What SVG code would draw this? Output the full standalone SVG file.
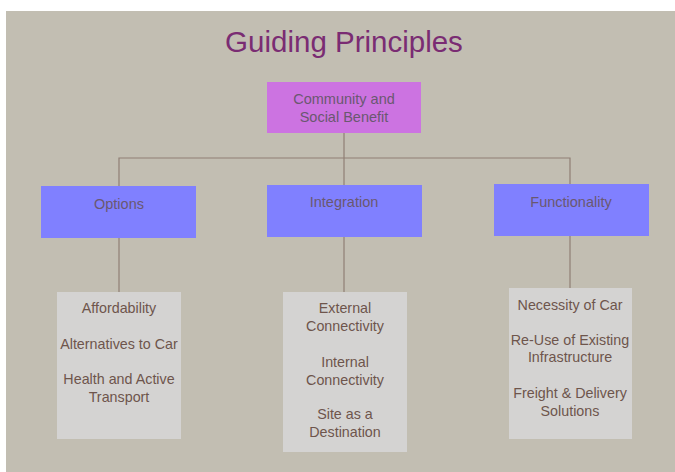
<svg xmlns="http://www.w3.org/2000/svg" width="675" height="472" viewBox="0 0 675 472">
  <style>
    text { font-family: "Liberation Sans", Arial, sans-serif; text-anchor: middle; }
    .title { font-size: 29.5px; fill: #7a2c73; }
    .top { fill: #cc73e1; }
    .mid { fill: #8080ff; }
    .list { fill: #d4d3d2; }
    .hd { font-size: 14.5px; fill: #6a5870; }
    .item { font-size: 14.3px; fill: #6e554c; }
    .conn { stroke: #8f7f75; stroke-width: 1.2; fill: none; }
  </style>

  <rect width="675" height="472" fill="#ffffff"/>
  <rect x="6" y="11" width="669" height="461" fill="#c2beb2"/>

  <text class="title" x="344" y="52">Guiding Principles</text>

  <!-- connectors -->
  <g id="connectors">
    <path class="conn" d="M344,133 V185"/>
    <path class="conn" d="M119,186 V158 H570 V184"/>
    <path class="conn" d="M119,238 V292"/>
    <path class="conn" d="M344,237 V292"/>
    <path class="conn" d="M570,236 V288"/>
  </g>

  <g id="community">
    <rect class="top" x="267" y="82" width="154" height="51"/>
    <text class="hd" x="344" y="104">Community and</text>
    <text class="hd" x="344" y="122">Social Benefit</text>
  </g>

  <g id="options">
    <rect class="mid" x="41" y="186" width="155" height="52"/>
    <text class="hd" x="119" y="209">Options</text>
  </g>

  <g id="integration">
    <rect class="mid" x="267" y="185" width="155" height="52"/>
    <text class="hd" x="344" y="207">Integration</text>
  </g>

  <g id="functionality">
    <rect class="mid" x="494" y="184" width="155" height="52"/>
    <text class="hd" x="571" y="207">Functionality</text>
  </g>

  <g id="options-list">
    <rect class="list" x="57" y="292" width="124" height="147"/>
    <text class="item" x="119" y="313">Affordability</text>
    <text class="item" x="119" y="349">Alternatives to Car</text>
    <text class="item" x="119" y="384">Health and Active</text>
    <text class="item" x="119" y="402">Transport</text>
  </g>

  <g id="integration-list">
    <rect class="list" x="283" y="292" width="124" height="160"/>
    <text class="item" x="345" y="313">External</text>
    <text class="item" x="345" y="331">Connectivity</text>
    <text class="item" x="345" y="367">Internal</text>
    <text class="item" x="345" y="385">Connectivity</text>
    <text class="item" x="345" y="419">Site as a</text>
    <text class="item" x="345" y="437">Destination</text>
  </g>

  <g id="functionality-list">
    <rect class="list" x="509" y="288" width="123" height="151"/>
    <text class="item" x="570" y="310">Necessity of Car</text>
    <text class="item" x="570" y="345">Re-Use of Existing</text>
    <text class="item" x="570" y="362">Infrastructure</text>
    <text class="item" x="570" y="398">Freight &amp; Delivery</text>
    <text class="item" x="570" y="416">Solutions</text>
  </g>
</svg>
